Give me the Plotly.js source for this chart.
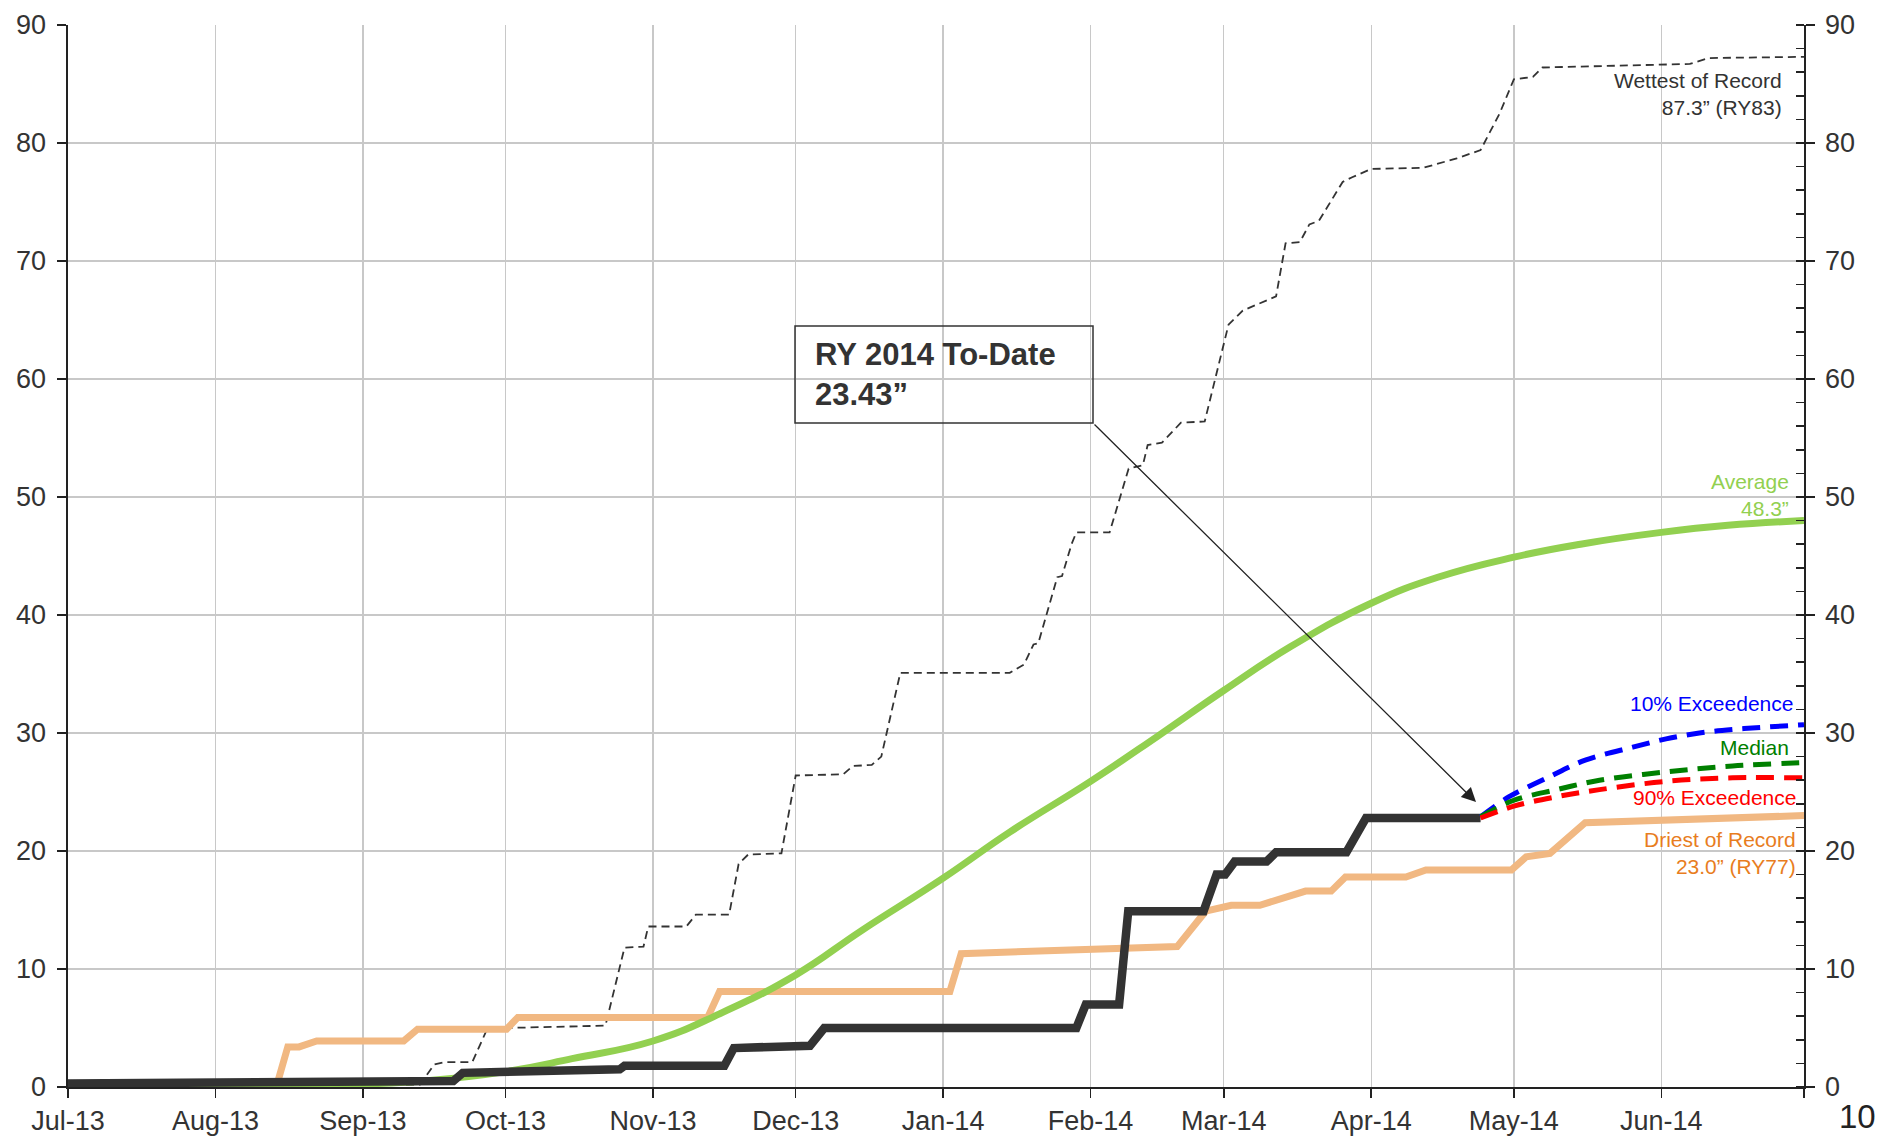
<!DOCTYPE html>
<html>
<head>
<meta charset="utf-8">
<script src="https://cdn.plot.ly/plotly-3.0.1.min.js"></script>
<style>
  html, body { margin: 0; padding: 0; background: #ffffff; }
  #chart { width: 1881px; height: 1136px; }
</style>
</head>
<body>
<div id="chart"></div>
<script>
// ---- Data ----
const monthTickVals = ['2013-07-01','2013-08-01','2013-09-01','2013-10-01','2013-11-01','2013-12-01',
  '2014-01-01','2014-02-01','2014-03-01','2014-04-01','2014-05-01','2014-06-01','2014-07-01'];
const monthTickText = ['Jul-13','Aug-13','Sep-13','Oct-13','Nov-13','Dec-13',
  'Jan-14','Feb-14','Mar-14','Apr-14','May-14','Jun-14',''];
const yTickVals = [0,10,20,30,40,50,60,70,80,90];

// Wettest of Record (RY83)
const wettestDates = ['2013-07-01','2013-09-13','2013-09-16','2013-09-18','2013-09-24','2013-09-27','2013-10-01',
  '2013-10-22','2013-10-26','2013-10-30','2013-10-31','2013-11-08','2013-11-10','2013-11-17','2013-11-19',
  '2013-11-21','2013-11-28','2013-12-01','2013-12-11','2013-12-13','2013-12-17','2013-12-19','2013-12-23',
  '2014-01-15','2014-01-18','2014-01-20','2014-01-21','2014-01-25','2014-01-26','2014-01-28','2014-01-29',
  '2014-02-05','2014-02-09','2014-02-12','2014-02-13','2014-02-16','2014-02-20','2014-02-25','2014-03-02',
  '2014-03-05','2014-03-12','2014-03-14','2014-03-17','2014-03-19','2014-03-21','2014-03-26','2014-03-28',
  '2014-04-01','2014-04-12','2014-04-19','2014-04-24','2014-04-28','2014-05-01','2014-05-05','2014-05-07',
  '2014-06-07','2014-06-11','2014-07-01'];
const wettestVals = [0.0,0.2,1.9,2.1,2.1,4.8,5.0,
  5.2,11.8,11.9,13.6,13.6,14.6,14.6,18.9,
  19.7,19.8,26.4,26.5,27.2,27.3,28.0,35.1,
  35.1,35.8,37.5,37.6,43.2,43.3,46.0,47.0,
  47.0,52.4,52.7,54.4,54.6,56.3,56.4,64.6,
  65.8,67.0,71.5,71.6,73.1,73.4,76.7,77.1,
  77.8,77.9,78.7,79.4,82.5,85.4,85.6,86.4,
  86.7,87.2,87.3];

// Driest of Record (RY77)
const driestDates = ['2013-07-01','2013-08-14','2013-08-16 05:00','2013-08-18 14:00','2013-08-22 07:00',
  '2013-09-09 14:00','2013-09-12 12:00','2013-10-01 05:00','2013-10-03 14:00','2013-11-12 12:00','2013-11-15',
  '2014-01-02 10:00','2014-01-04 19:00','2014-02-19 05:00','2014-02-25 05:00','2014-03-02 14:00',
  '2014-03-08 14:00','2014-03-18 05:00','2014-03-23 14:00','2014-03-26 14:00','2014-04-08 07:00',
  '2014-04-12 12:00','2014-04-30 12:00','2014-05-03 14:00','2014-05-08 14:00','2014-05-16','2014-07-01'];
const driestVals = [0.3,0.3,3.4,3.4,3.9,
  3.9,4.9,4.9,5.9,5.9,8.1,
  8.1,11.3,11.9,14.9,15.4,
  15.4,16.6,16.6,17.8,17.8,
  18.4,18.4,19.5,19.8,22.4,23.0];

// Average
const avgDates = ['2013-07-01','2013-07-15','2013-08-01','2013-08-15','2013-09-01','2013-09-15','2013-10-01',
  '2013-10-15','2013-11-01','2013-11-15','2013-12-01','2013-12-15','2014-01-01','2014-01-15','2014-02-01',
  '2014-02-15','2014-03-01','2014-03-15','2014-04-01','2014-04-15','2014-05-01','2014-05-15','2014-06-01',
  '2014-06-15','2014-07-01'];
const avgVals = [0.0,0.0,0.05,0.1,0.25,0.55,1.3,
  2.4,3.9,6.2,9.5,13.3,17.7,21.6,25.9,
  29.7,33.6,37.3,41.0,43.2,44.9,46.0,47.0,
  47.6,48.0];

// RY 2014 To-Date
const toDateDates = ['2013-07-01','2013-09-20','2013-09-22','2013-10-25','2013-10-26','2013-11-16','2013-11-18',
  '2013-12-04','2013-12-07','2014-01-29','2014-01-31','2014-02-07','2014-02-08 22:00','2014-02-24 18:00',
  '2014-02-27 12:00','2014-03-01 07:00','2014-03-03 07:00','2014-03-10','2014-03-12','2014-03-26 19:00',
  '2014-03-30 22:00','2014-04-24'];
const toDateVals = [0.3,0.5,1.2,1.5,1.8,1.8,3.3,
  3.5,5.0,5.0,7.0,7.0,14.9,14.9,
  18.0,18.0,19.1,19.1,19.9,19.9,
  22.8,22.8];

// Projections
const exc10Dates = ['2014-04-24','2014-04-30','2014-05-08','2014-05-16','2014-05-26','2014-06-02','2014-06-09','2014-06-16','2014-06-23','2014-07-01'];
const exc10Vals = [22.9,24.6,26.2,27.7,28.8,29.5,30.0,30.3,30.5,30.7];
const medianDates = ['2014-04-24','2014-05-01','2014-05-10','2014-05-19','2014-06-02','2014-06-16','2014-07-01'];
const medianVals = [22.9,24.3,25.2,26.0,26.7,27.2,27.5];
const exc90Dates = ['2014-04-24','2014-05-01','2014-05-10','2014-05-19','2014-06-02','2014-06-16','2014-07-01'];
const exc90Vals = [22.8,23.8,24.6,25.2,25.9,26.2,26.2];

// ---- Chart ----
const FONT = 'Liberation Sans, Arial, Helvetica, sans-serif';

const traces = [
  { x: wettestDates, y: wettestVals, mode: 'lines', line: { color: '#333333', width: 1.8, dash: '8px,5px' } },
  { x: driestDates, y: driestVals, mode: 'lines', line: { color: '#f1b882', width: 7 } },
  { x: avgDates, y: avgVals, mode: 'lines', line: { color: '#92d050', width: 7, shape: 'spline', smoothing: 1.3 } },
  { x: toDateDates, y: toDateVals, mode: 'lines', line: { color: '#333333', width: 8.5 } },
  { x: exc10Dates, y: exc10Vals, mode: 'lines', yaxis: 'y2', line: { color: '#0000ff', width: 5, dash: '18px,10px', shape: 'spline' } },
  { x: medianDates, y: medianVals, mode: 'lines', yaxis: 'y2', line: { color: '#008000', width: 5, dash: '18px,10px', shape: 'spline' } },
  { x: exc90Dates, y: exc90Vals, mode: 'lines', yaxis: 'y2', line: { color: '#ff0000', width: 5, dash: '18px,10px', shape: 'spline' } }
];

const L = 68, R = 77, T = 25, B = 49;
const PW = 1881 - L - R, PH = 1136 - T - B;
const px = X => (X - L) / PW;
const py = Y => (1136 - B - Y) / PH;

const labelFont = (c) => ({ family: FONT, size: 21, color: c });

const layout = {
  width: 1881, height: 1136,
  margin: { l: L, r: R, t: T, b: B, pad: 0 },
  paper_bgcolor: '#ffffff', plot_bgcolor: '#ffffff',
  showlegend: false,
  font: { family: FONT, color: '#333333' },
  xaxis: {
    type: 'date', range: ['2013-07-01', '2014-07-01'],
    tickmode: 'array', tickvals: monthTickVals, ticktext: monthTickText,
    showgrid: true, gridcolor: '#c8c8c8', gridwidth: 1.3,
    showline: true, linecolor: '#222222', linewidth: 1.6,
    ticks: 'outside', ticklen: 9, tickwidth: 1.5, tickcolor: '#222222',
    tickfont: { family: FONT, size: 27, color: '#333333' },
    zeroline: false
  },
  yaxis: {
    range: [0, 90], tickmode: 'array', tickvals: yTickVals,
    showgrid: true, gridcolor: '#c8c8c8', gridwidth: 1.3,
    showline: true, linecolor: '#222222', linewidth: 1.6,
    ticks: 'outside', ticklen: 9, tickwidth: 1.5, tickcolor: '#222222',
    ticklabelstandoff: 6,
    tickfont: { family: FONT, size: 27, color: '#333333' },
    zeroline: false
  },
  yaxis2: {
    overlaying: 'y', side: 'right', anchor: 'x',
    range: [0, 90], tickmode: 'array', tickvals: yTickVals,
    showgrid: false, zeroline: false,
    showline: true, linecolor: '#222222', linewidth: 1.6,
    ticks: 'outside', ticklen: 9, tickwidth: 1.5, tickcolor: '#222222',
    ticklabelstandoff: 5,
    tickfont: { family: FONT, size: 27, color: '#333333' },
    minor: { dtick: 2, tick0: 0, ticks: 'inside', ticklen: 8, tickwidth: 1.5, tickcolor: '#222222', showgrid: false }
  },
  shapes: [
    { type: 'rect', xref: 'paper', yref: 'paper', x0: px(795), x1: px(1093), y0: py(423), y1: py(326),
      line: { color: '#333333', width: 1.5 }, fillcolor: 'rgba(0,0,0,0)' }
  ],
  annotations: [
    { xref: 'paper', yref: 'paper', x: px(813), y: py(374), xanchor: 'left', yanchor: 'middle', align: 'left',
      showarrow: false, text: '<b>RY 2014 To-Date<br>23.43”</b>',
      font: { family: FONT, size: 31, color: '#333333' } },
    { x: '2014-04-23 01:00', y: 24.15, xref: 'x', yref: 'y', text: '', showarrow: true,
      ax: -383, ay: -379, arrowhead: 2, arrowsize: 2.2, arrowwidth: 1.3, arrowcolor: '#222222', standoff: 0 },
    { xref: 'paper', yref: 'paper', x: px(1784), y: py(94.5), xanchor: 'right', yanchor: 'middle', align: 'right',
      showarrow: false, text: 'Wettest of Record<br>87.3” (RY83)', font: labelFont('#333333') },
    { xref: 'paper', yref: 'paper', x: px(1791), y: py(495), xanchor: 'right', yanchor: 'middle', align: 'right',
      showarrow: false, text: 'Average<br>48.3”', font: labelFont('#92d050') },
    { xref: 'paper', yref: 'paper', x: px(1795), y: py(703), xanchor: 'right', yanchor: 'middle', align: 'right',
      showarrow: false, text: '10% Exceedence', font: labelFont('#0000ff') },
    { xref: 'paper', yref: 'paper', x: px(1791), y: py(747), xanchor: 'right', yanchor: 'middle', align: 'right',
      showarrow: false, text: 'Median', font: labelFont('#008000') },
    { xref: 'paper', yref: 'paper', x: px(1798), y: py(798), xanchor: 'right', yanchor: 'middle', align: 'right',
      showarrow: false, text: '90% Exceedence', font: labelFont('#ff0000') },
    { xref: 'paper', yref: 'paper', x: px(1798), y: py(852.5), xanchor: 'right', yanchor: 'middle', align: 'right',
      showarrow: false, text: 'Driest of Record<br>23.0” (RY77)', font: labelFont('#e87d1e') },
    { xref: 'paper', yref: 'paper', x: px(1857), y: py(1136), xanchor: 'center', yanchor: 'bottom', borderpad: 0,
      showarrow: false, text: '10', font: { family: FONT, size: 33, color: '#222222' } }
  ]
};

Plotly.newPlot('chart', traces, layout, { staticPlot: true, displayModeBar: false });
</script>
</body>
</html>
